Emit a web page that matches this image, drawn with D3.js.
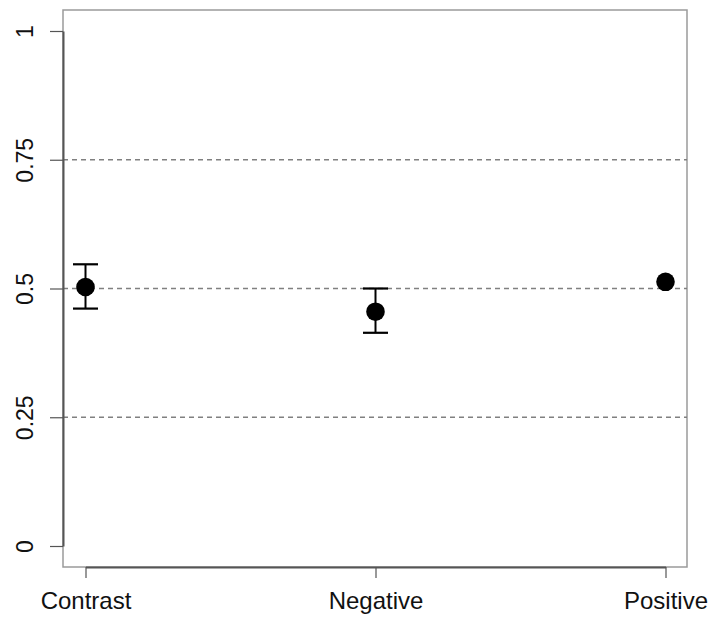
<!DOCTYPE html>
<html>
<head>
<meta charset="utf-8">
<script src="https://cdn.jsdelivr.net/npm/d3@7"></script>
<style>
  html, body { margin: 0; padding: 0; background: #fff; }
  svg { display: block; }
  text { font-family: "Liberation Sans", Arial, sans-serif; fill: #111; }
</style>
</head>
<body>
<svg id="chart" width="714" height="620"></svg>
<script>
// Group means with upper/lower error limits
const categories = ["Contrast", "Negative", "Positive"];
const means = [0.503, 0.455, 0.513];
const upper = [0.547, 0.500, 0.513];
const lower = [0.461, 0.414, 0.513];
const yTicks = [0, 0.25, 0.5, 0.75, 1];
const yTickLabels = ["0", "0.25", "0.5", "0.75", "1"];
const refLines = [0.25, 0.5, 0.75];

const svg = d3.select("#chart");
const box = { left: 63, right: 687, top: 10, bottom: 567 };

const x = d3.scalePoint().domain(categories).range([85.5, 665.5]);
const y = d3.scaleLinear().domain([0, 1]).range([546, 31]);

// plot frame
svg.append("rect")
  .attr("x", box.left).attr("y", box.top)
  .attr("width", box.right - box.left).attr("height", box.bottom - box.top)
  .attr("fill", "none").attr("stroke", "#9a9a9a").attr("stroke-width", 1.5);

// dashed reference lines
svg.selectAll("line.ref").data(refLines).enter().append("line")
  .attr("class", "ref")
  .attr("x1", box.left).attr("x2", box.right)
  .attr("y1", d => y(d)).attr("y2", d => y(d))
  .attr("stroke", "#808080").attr("stroke-width", 1.5)
  .attr("stroke-dasharray", "5,4");

// y axis
const yAxis = d3.axisLeft(y).tickValues(yTicks)
  .tickFormat((d, i) => yTickLabels[i]).tickSize(13).tickSizeOuter(0);
const gy = svg.append("g").attr("transform", `translate(${box.left},0)`).call(yAxis);
gy.select(".domain").attr("stroke", "#555").attr("stroke-width", 2);
gy.selectAll(".tick line").attr("stroke", "#555").attr("stroke-width", 1.2);
gy.selectAll(".tick text")
  .attr("font-size", 23).attr("fill", "#111")
  .attr("text-anchor", "middle")
  .attr("x", 0).attr("y", 0).attr("dy", 0)
  .attr("transform", `translate(${33 - box.left},0) rotate(-90)`);

// x axis
const xAxis = d3.axisBottom(x).tickSize(11).tickSizeOuter(0);
const gx = svg.append("g").attr("transform", `translate(0,${box.bottom})`).call(xAxis);
gx.select(".domain").attr("stroke", "#555").attr("stroke-width", 2);
gx.selectAll(".tick line").attr("stroke", "#555").attr("stroke-width", 1.2);
gx.selectAll(".tick text").attr("font-size", 24).attr("fill", "#111")
  .attr("y", 0).attr("dy", "0").attr("transform", `translate(0,${609 - box.bottom})`);

// error bars
const capHalf = 12.5;
const err = svg.append("g");
categories.forEach((c, i) => {
  if (upper[i] === lower[i]) return;
  const cx = x(c);
  err.append("line").attr("x1", cx).attr("x2", cx)
    .attr("y1", y(upper[i])).attr("y2", y(lower[i]))
    .attr("stroke", "#000").attr("stroke-width", 2);
  [upper[i], lower[i]].forEach(v => {
    err.append("line").attr("x1", cx - capHalf).attr("x2", cx + capHalf)
      .attr("y1", y(v)).attr("y2", y(v))
      .attr("stroke", "#000").attr("stroke-width", 2.2);
  });
});

// mean points
svg.selectAll("circle.pt").data(categories).enter().append("circle")
  .attr("class", "pt")
  .attr("cx", d => x(d)).attr("cy", (d, i) => y(means[i]))
  .attr("r", 9.3).attr("fill", "#000");
</script>
</body>
</html>
